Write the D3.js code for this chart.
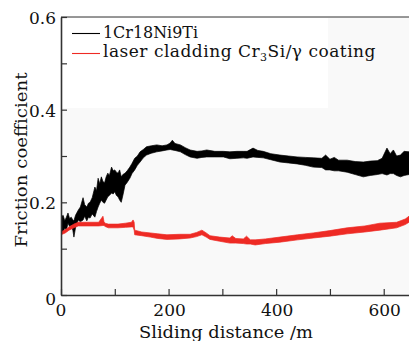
<!DOCTYPE html>
<html><head><meta charset="utf-8">
<script src="https://cdn.jsdelivr.net/npm/d3@7"></script>
<style>html,body{margin:0;padding:0;background:#fff;}svg{display:block;}</style>
</head><body>
<script>
// ---- data ----
const xTicks = [0, 200, 400, 600];
const xMinor = [100, 300, 500];
const yTicks = [0, 0.2, 0.4, 0.6];
const yMinor = [0.1, 0.3, 0.5];
const seriesNames = ["1Cr18Ni9Ti", "laser cladding Cr3Si/γ coating"];
const seriesColors = ["#000000", "#ee2a24"];

// 1Cr18Ni9Ti: distance and lower / upper edge of the noisy trace
const blackX  = [0, 4, 7, 10, 13, 16, 19, 22, 24, 27, 32, 36, 41, 44, 48, 51, 54, 58, 63, 66, 69, 72, 75, 78, 81, 84, 87, 90, 94, 97, 100, 103, 106, 109, 112, 115, 119, 123, 128, 132, 137, 142, 147, 153, 159, 168, 178, 188, 197, 203, 207, 212, 222, 231, 240, 253, 262, 271, 286, 302, 314, 327, 339, 346, 357, 366, 376, 390, 407, 423, 439, 454, 469, 485, 492, 500, 508, 516, 532, 547, 562, 575, 588, 597, 606, 612, 618, 624, 631, 638, 647];
const blackLo = [0.14, 0.135, 0.145, 0.14, 0.155, 0.148, 0.15, 0.14, 0.125, 0.145, 0.162, 0.158, 0.162, 0.17, 0.16, 0.168, 0.166, 0.175, 0.168, 0.18, 0.19, 0.198, 0.205, 0.2, 0.198, 0.205, 0.212, 0.215, 0.22, 0.218, 0.223, 0.215, 0.212, 0.205, 0.2, 0.215, 0.237, 0.243, 0.252, 0.262, 0.27, 0.28, 0.287, 0.296, 0.302, 0.306, 0.309, 0.311, 0.313, 0.314, 0.313, 0.312, 0.309, 0.303, 0.298, 0.295, 0.297, 0.298, 0.298, 0.298, 0.294, 0.295, 0.296, 0.295, 0.298, 0.297, 0.296, 0.292, 0.287, 0.285, 0.283, 0.28, 0.276, 0.275, 0.27, 0.27, 0.268, 0.268, 0.265, 0.26, 0.255, 0.258, 0.26, 0.262, 0.259, 0.262, 0.262, 0.258, 0.255, 0.258, 0.26];
const blackHi = [0.168, 0.172, 0.16, 0.168, 0.177, 0.165, 0.168, 0.162, 0.16, 0.172, 0.183, 0.19, 0.21, 0.195, 0.19, 0.198, 0.2, 0.21, 0.233, 0.225, 0.252, 0.24, 0.255, 0.245, 0.242, 0.255, 0.263, 0.258, 0.276, 0.268, 0.27, 0.265, 0.263, 0.27, 0.255, 0.26, 0.263, 0.268, 0.276, 0.284, 0.295, 0.3, 0.309, 0.314, 0.32, 0.322, 0.324, 0.322, 0.324, 0.328, 0.334, 0.327, 0.324, 0.318, 0.313, 0.31, 0.311, 0.313, 0.31, 0.31, 0.309, 0.31, 0.31, 0.31, 0.317, 0.312, 0.31, 0.305, 0.302, 0.3, 0.298, 0.297, 0.296, 0.295, 0.302, 0.293, 0.297, 0.291, 0.291, 0.288, 0.287, 0.289, 0.29, 0.295, 0.317, 0.305, 0.313, 0.3, 0.302, 0.31, 0.309];

// laser cladding coating: distance and lower / upper edge of the trace
const redX  = [0, 8, 15, 24, 32, 50, 70, 78, 80, 82, 88, 106, 120, 131, 134, 136, 137, 150, 166, 180, 197, 220, 240, 252, 262, 270, 277, 295, 314, 318, 325, 339, 345, 352, 361, 380, 407, 440, 469, 500, 532, 565, 593, 624, 640, 647];
const redLo = [0.13, 0.134, 0.14, 0.145, 0.149, 0.149, 0.149, 0.15, 0.15, 0.148, 0.145, 0.145, 0.146, 0.147, 0.147, 0.14, 0.13, 0.128, 0.125, 0.122, 0.12, 0.121, 0.123, 0.126, 0.13, 0.125, 0.12, 0.116, 0.112, 0.112, 0.112, 0.111, 0.11, 0.11, 0.108, 0.111, 0.114, 0.119, 0.123, 0.127, 0.132, 0.136, 0.14, 0.145, 0.152, 0.157];
const redHi = [0.136, 0.141, 0.147, 0.153, 0.157, 0.157, 0.157, 0.17, 0.158, 0.155, 0.153, 0.153, 0.155, 0.157, 0.162, 0.157, 0.14, 0.136, 0.134, 0.132, 0.13, 0.131, 0.131, 0.135, 0.14, 0.134, 0.128, 0.125, 0.123, 0.128, 0.122, 0.121, 0.127, 0.119, 0.119, 0.121, 0.125, 0.13, 0.134, 0.139, 0.145, 0.149, 0.155, 0.157, 0.164, 0.17];

// ---- layout ----
const W = 409, H = 341;
const m = {left: 61, top: 17, right: 0, bottom: 46};
const x = d3.scaleLinear().domain([0, 647]).range([m.left, W]);
const y = d3.scaleLinear().domain([0, 0.6]).range([H - m.bottom, m.top]);
const font = "'DejaVu Serif', serif";

const svg = d3.select("body").append("svg").attr("width", W).attr("height", H);

// plot background
svg.append("rect").attr("x", m.left).attr("y", m.top).attr("width", W - m.left).attr("height", y(0) - m.top).attr("fill", "#f9f9f9");
svg.append("rect").attr("x", m.left + 1).attr("y", m.top + 1).attr("width", 327 - m.left).attr("height", 107 - m.top).attr("fill", "#ffffff");

// series
svg.append("clipPath").attr("id", "c").append("rect")
  .attr("x", m.left).attr("y", m.top).attr("width", W - m.left).attr("height", y(0) - m.top);
const plot = svg.append("g").attr("clip-path", "url(#c)");
function band(xs, lo, hi, color) {
  const pts = xs.map((d, i) => ({x: d, lo: lo[i], hi: hi[i]}));
  plot.append("path").datum(pts)
    .attr("d", d3.area().x(d => x(d.x)).y0(d => y(d.lo)).y1(d => y(d.hi)))
    .attr("fill", color).attr("stroke", color).attr("stroke-width", 0.7).attr("stroke-linejoin", "miter");
}
band(blackX, blackLo, blackHi, seriesColors[0]);
band(redX, redLo, redHi, seriesColors[1]);

// axes (inward ticks)
const axCol = "#333";
const gx = svg.append("g").attr("transform", `translate(0,${y(0)})`)
  .call(d3.axisBottom(x).tickValues(xTicks.concat(xMinor)).tickSizeInner(-6).tickSizeOuter(0).tickFormat(""));
const gy = svg.append("g").attr("transform", `translate(${m.left},0)`)
  .call(d3.axisLeft(y).tickValues(yTicks.concat(yMinor)).tickSizeInner(-6).tickSizeOuter(0).tickFormat(""));
[gx, gy].forEach(g => {
  g.select(".domain").attr("stroke", axCol).attr("stroke-width", 1.6);
  g.selectAll(".tick line").attr("stroke", axCol).attr("stroke-width", 1.2);
});
// top frame
svg.append("line").attr("x1", m.left).attr("x2", W).attr("y1", y(0.6)).attr("y2", y(0.6)).attr("stroke", axCol).attr("stroke-width", 1.2);

// tick labels
svg.append("g").selectAll("text").data(xTicks).join("text")
  .attr("x", d => x(d) + (d === 0 ? 0 : 1)).attr("y", 316)
  .attr("text-anchor", "middle").attr("font-family", font).attr("font-size", 17).attr("fill", "#111")
  .text(d => d);
svg.append("g").selectAll("text").data(yTicks).join("text")
  .attr("x", 56).attr("y", d => y(d) + (d === 0 ? 10 : 7))
  .attr("text-anchor", "end").attr("font-family", font).attr("font-size", 17).attr("fill", "#111")
  .text(d => d === 0 ? "0" : d3.format(".1f")(d));

// axis titles
svg.append("text").attr("x", 226).attr("y", 338).attr("text-anchor", "middle")
  .attr("textLength", 174).attr("lengthAdjust", "spacingAndGlyphs")
  .attr("font-family", font).attr("font-size", 17).attr("fill", "#111").text("Sliding distance /m");
svg.append("text").attr("transform", "translate(27,160) rotate(-90)").attr("text-anchor", "middle")
  .attr("textLength", 175).attr("lengthAdjust", "spacingAndGlyphs")
  .attr("font-family", font).attr("font-size", 17).attr("fill", "#111").text("Friction coefficient");

// legend
const lg = svg.append("g");
[33.5, 53.5].forEach((ly, i) => {
  lg.append("line").attr("x1", 72).attr("x2", 100).attr("y1", ly).attr("y2", ly)
    .style("stroke", seriesColors[i]).attr("stroke-width", 1.1);
});
lg.append("text").attr("x", 103).attr("y", 38).attr("font-family", font).attr("font-size", 16).attr("fill", "#111")
  .attr("textLength", 95).attr("lengthAdjust", "spacingAndGlyphs")
  .text(seriesNames[0]);
const t2 = lg.append("text").attr("x", 103).attr("y", 57).attr("font-family", font).attr("font-size", 17)
  .attr("letter-spacing", 0.5).attr("fill", "#111");
t2.append("tspan").text("laser cladding Cr");
t2.append("tspan").attr("font-size", 11).attr("dy", 4).text("3");
t2.append("tspan").attr("dy", -4).text("Si/γ coating");
</script>
</body></html>
